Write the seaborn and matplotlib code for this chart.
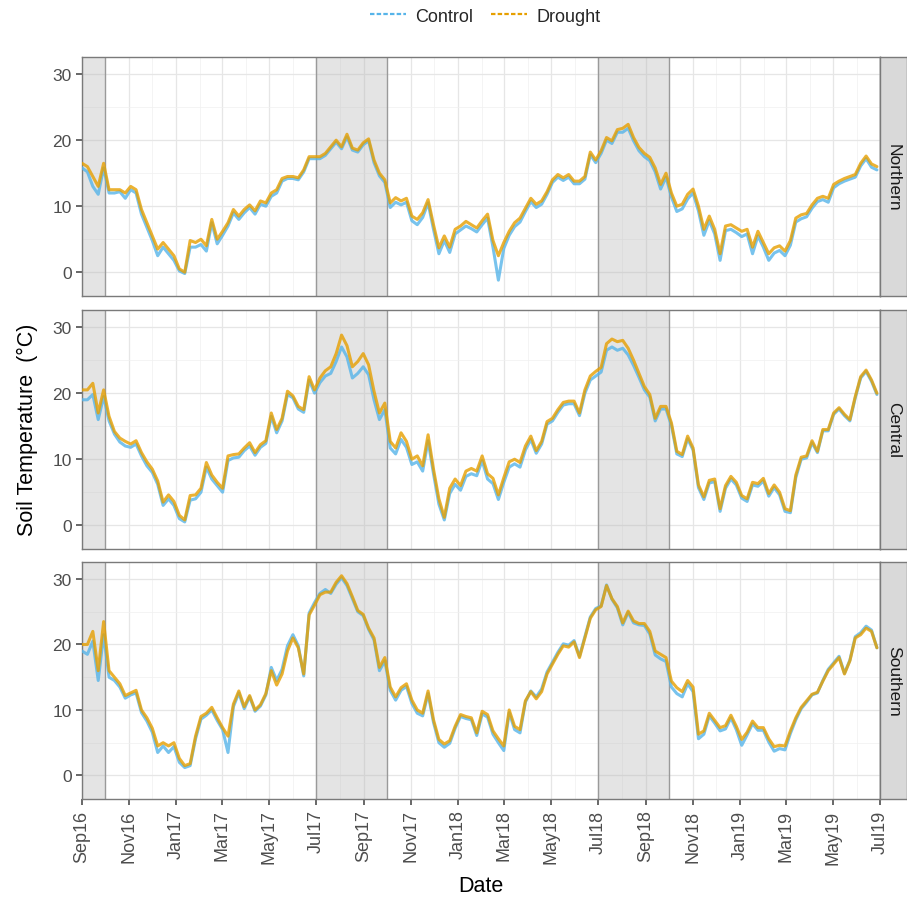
import numpy as np
import pandas as pd
import matplotlib
matplotlib.use("Agg")
import matplotlib.pyplot as plt
import matplotlib.dates as mdates
from matplotlib.lines import Line2D
import seaborn as sns

sns.set_theme(style="white")
plt.rcParams['font.family'] = ['Liberation Sans', 'DejaVu Sans']

# ---------------- data (weekly readings from the chart) ----------------
start_date = "2016-09-01"
dates = pd.date_range(start_date, periods=148, freq="7D")
regions = ["Northern", "Central", "Southern"]
treatments = ["Control", "Drought"]

northern_drought = [
    16.5, 16, 14.5, 13, 16.5, 12.5, 12.5, 12.5, 12, 13,
    12.5, 9.5, 7.5, 5.5, 3.5, 4.5, 3.5, 2.5, 0.5, 0.0,
    4.8, 4.5, 5, 4, 8, 5, 6.2, 7.5, 9.5, 8.5,
    9.5, 10.2, 9.3, 10.8, 10.5, 12, 12.5, 14.2, 14.5, 14.5,
    14.3, 15.5, 17.5, 17.5, 17.5, 18, 19, 20, 19, 20.9,
    18.8, 18.5, 19.6, 20.2, 17, 15, 14, 10.5, 11.3, 10.8,
    11.2, 8.5, 8, 9, 11, 7.2, 3.7, 5.5, 3.8, 6.5,
    7, 7.7, 7.2, 6.7, 7.8, 8.8, 4.8, 2.5, 4.5, 6.2,
    7.5, 8.2, 9.7, 11.2, 10.3, 10.8, 12.2, 14, 14.8, 14.3,
    14.8, 13.8, 13.8, 14.5, 18.2, 17, 18.4, 20.4, 19.9, 21.6,
    21.8, 22.4, 20.4, 18.9, 18, 17.4, 15.8, 13.3, 15, 12,
    10, 10.3, 11.8, 12.6, 10, 6.5, 8.5, 6.5, 2.8, 7,
    7.2, 6.7, 6.2, 6.5, 3.8, 6.2, 4.5, 2.8, 3.7, 4,
    3.2, 4.8, 8.2, 8.7, 8.9, 10.2, 11.2, 11.5, 11.2, 13.3,
    13.8, 14.2, 14.5, 14.8, 16.5, 17.6, 16.4, 16]
northern_control = [
    15.8, 15.2, 13, 11.8, 15.8, 12, 12, 12.2, 11.2, 12.5,
    12, 8.8, 6.8, 4.8, 2.5, 3.8, 2.8, 1.8, 0.2, -0.2,
    3.8, 3.8, 4.2, 3.2, 7.5, 4.3, 5.6, 7, 9, 8,
    9, 9.8, 8.8, 10.3, 10, 11.5, 12, 13.8, 14.2, 14.2,
    14, 15.2, 17.2, 17.2, 17.2, 17.7, 18.7, 19.7, 18.7, 20.5,
    18.5, 18.2, 19.3, 19.9, 16.6, 14.6, 13.6, 9.8, 10.6, 10.2,
    10.6, 7.8, 7.2, 8.3, 10.5, 6.5, 2.8, 4.8, 3, 5.8,
    6.4, 7, 6.6, 6.1, 7.2, 8.2, 3.8, -1.2, 3.6, 5.6,
    6.9, 7.6, 9.2, 10.7, 9.8, 10.3, 11.8, 13.6, 14.4, 13.9,
    14.4, 13.4, 13.4, 14.1, 17.8, 16.6, 18, 20, 19.5, 21.2,
    21.2, 21.8, 19.9, 18.4, 17.5, 16.9, 15.2, 12.6, 14.4, 11.4,
    9.2, 9.6, 11.1, 12, 9.3, 5.6, 7.8, 5.8, 1.8, 6.3,
    6.5, 6, 5.4, 5.8, 2.8, 5.5, 3.8, 1.8, 2.9, 3.3,
    2.5, 4.1, 7.6, 8.1, 8.4, 9.7, 10.7, 11, 10.6, 12.8,
    13.4, 13.8, 14.1, 14.4, 16.1, 17.2, 15.9, 15.5]

central_drought = [
    20.5, 20.5, 21.5, 17, 20.5, 16.5, 14.2, 13.2, 12.7, 12.3,
    12.8, 11, 9.6, 8.5, 6.7, 3.5, 4.6, 3.6, 1.5, 0.8,
    4.5, 4.6, 5.6, 9.5, 7.6, 6.5, 5.6, 10.5, 10.7, 10.8,
    11.7, 12.5, 11, 12.2, 12.8, 17, 14.5, 16.2, 20.3, 19.6,
    18, 17.5, 22.5, 20.5, 22.3, 23.4, 24, 26, 28.8, 27.2,
    24, 24.8, 26, 24.3, 20.3, 17, 18.5, 12.7, 11.7, 14,
    12.7, 10, 10.5, 9, 13.7, 8.5, 4, 1.2, 5.6, 7,
    6, 8.2, 8.6, 8.2, 10.5, 7.8, 7.1, 4.6, 7.2, 9.6,
    10, 9.5, 12, 13.5, 11.3, 12.7, 15.7, 16.2, 17.5, 18.6,
    18.8, 18.8, 17, 20.5, 22.6, 23.3, 23.9, 27.5, 28.2, 27.8,
    28, 26.8, 25, 23, 21, 19.8, 16.2, 18, 18, 15.5,
    11.2, 10.7, 13.5, 11.7, 6.1, 4.3, 6.8, 7, 2.5, 6,
    7.4, 6.5, 4.5, 4, 6.5, 6.3, 7.1, 4.8, 6.1, 5,
    2.5, 2.2, 7.6, 10.3, 10.5, 12.8, 11.2, 14.5, 14.5, 17,
    17.8, 16.8, 16, 19.5, 22.5, 23.5, 22, 20]
central_control = [
    19, 19, 19.8, 16, 19.5, 15.8, 13.8, 12.6, 12, 11.8,
    12.3, 10.5, 9, 8, 6.2, 3, 4, 3, 1, 0.5,
    3.8, 4, 5, 8.8, 7, 6, 5, 9.8, 10.2, 10.3,
    11.3, 12, 10.6, 11.8, 12.4, 16.5, 14, 15.8, 19.8, 19.3,
    17.6, 17.1, 22, 20, 21.6, 22.6, 23, 24.8, 27, 25.5,
    22.3, 23, 24, 22.8, 19, 16, 17.5, 11.7, 10.8, 13,
    11.8, 9.2, 9.6, 8.2, 12.8, 7.8, 3.2, 0.8, 4.8, 6.2,
    5.3, 7.4, 7.8, 7.5, 9.8, 7, 6.3, 3.9, 6.5, 8.8,
    9.3, 8.8, 11.4, 13, 10.9, 12.3, 15.3, 15.8, 17.1, 18.2,
    18.4, 18.4, 16.6, 20, 22, 22.6, 23.2, 26.5, 27, 26.5,
    26.8, 25.8, 24.2, 22.4, 20.5, 19.4, 15.8, 17.6, 17.6, 15.1,
    10.8, 10.4, 13.1, 11.4, 5.7, 3.9, 6.4, 6.6, 2.1, 5.6,
    7, 6.1, 4.1, 3.6, 6.1, 5.9, 6.7, 4.4, 5.7, 4.6,
    2.1, 1.9, 7.2, 10, 10.2, 12.5, 11, 14.3, 14.3, 16.8,
    17.6, 16.6, 15.8, 19.3, 22.3, 23.3, 21.8, 19.8]

southern_drought = [
    20, 20, 22, 16, 23.5, 16, 15, 14, 12.2, 12.6,
    13, 10, 8.8, 7.2, 4.5, 5, 4.5, 5, 2.6, 1.5,
    1.8, 6, 9, 9.5, 10.4, 8.8, 7.3, 6, 10.9, 12.9,
    10.5, 12.2, 10, 10.8, 12.5, 16, 13.8, 15.5, 19, 21,
    19.5, 15.5, 24.5, 26, 27.6, 28, 28, 29.5, 30.5, 29.3,
    27.3, 25.2, 24.6, 22.5, 21, 16.5, 18, 13.5, 12, 13.4,
    14, 11.5, 10, 9.5, 12.9, 8.5, 5.5, 4.8, 5.3, 7.5,
    9.3, 9, 8.8, 6.5, 9.8, 9.3, 6.8, 5.6, 4.5, 10,
    7.5, 7, 11.4, 12.8, 11.7, 12.8, 15.5, 17, 18.5, 19.8,
    19.6, 20.4, 18, 21, 24, 25.3, 25.8, 29, 27, 25.8,
    23.3, 25.1, 23.6, 23.2, 23.2, 22, 19, 18.5, 18, 14.4,
    13.4, 12.8, 14.5, 13.5, 6.3, 6.8, 9.5, 8.4, 7.3, 7.6,
    9.2, 7.5, 5.5, 6.6, 8.3, 7.3, 7.3, 5.6, 4.4, 4.6,
    4.5, 6.8, 8.8, 10.4, 11.4, 12.4, 12.7, 14.4, 16, 17,
    18, 15.5, 17.5, 21, 21.5, 22.5, 22, 19.5]
southern_control = [
    19, 18.5, 20.5, 14.5, 21.5, 15, 14.5, 13.5, 11.8, 12.3,
    12.6, 9.6, 8.3, 6.6, 3.5, 4.5, 3.5, 4.4, 2, 1.2,
    1.5, 5.6, 8.6, 9.2, 10, 8.4, 7, 3.5, 10.5, 12.6,
    10.2, 12, 9.8, 10.6, 12.3, 16.5, 14.5, 16.2, 19.8, 21.5,
    19.8, 15.2, 24.8, 26.4, 27.8, 28.4, 27.8, 29.2, 30.2, 29,
    27, 25, 24.4, 22.3, 20.7, 16, 17.5, 13, 11.5, 13,
    13.6, 11, 9.5, 9.1, 12.5, 8.1, 5, 4.3, 4.9, 7.2,
    9, 8.7, 8.5, 6.1, 9.4, 8.9, 6.3, 5, 3.8, 9.6,
    7, 6.5, 11.2, 12.9, 12, 13.2, 15.8, 17.3, 18.8, 20.1,
    19.9, 20.6, 18.2, 21.2, 24.2, 25.5, 25.9, 29.1, 26.9, 25.6,
    23, 24.9, 23.3, 23, 22.9, 21.6, 18.4, 17.8, 17.4, 13.5,
    12.5, 12, 14, 12.8, 5.6, 6.3, 9.1, 8, 6.8, 7.1,
    8.8, 7, 4.6, 6.2, 7.9, 6.9, 6.9, 5.1, 3.7, 4.1,
    3.9, 6.4, 8.5, 10.2, 11.2, 12.3, 12.6, 14.5, 16.2, 17.2,
    18.2, 15.6, 17.6, 21.2, 21.8, 22.8, 22.2, 19.5]

series = {
    "Northern": {"Control": northern_control, "Drought": northern_drought},
    "Central": {"Control": central_control, "Drought": central_drought},
    "Southern": {"Control": southern_control, "Drought": southern_drought},
}

shade_periods = [("2016-08-01", "2016-10-01"), ("2017-07-01", "2017-10-01"),
                 ("2018-07-01", "2018-10-01"), ("2019-07-01", "2019-10-01")]

frames = []
for reg in regions:
    for tr in treatments:
        vals = series[reg][tr]
        frames.append(pd.DataFrame({"Date": dates[:len(vals)], "Temp": vals,
                                    "Treatment": tr, "Region": reg}))
df = pd.concat(frames, ignore_index=True)

# ---------------- layout ----------------
W, H = 907, 903
fig = plt.figure(figsize=(W / 100, H / 100), dpi=100)
fig.patch.set_facecolor("white")
panel_px = [(58, 297), (311, 550), (563, 800)]
left_px, right_px = 82, 880
strip_w = 27
palette = {"Control": "#56B4E9", "Drought": "#E69F00"}
xmin, xmax = pd.Timestamp("2016-09-01"), pd.Timestamp("2019-07-01")

for i, reg in enumerate(regions):
    top, bot = panel_px[i]
    ax = fig.add_axes([left_px / W, 1 - bot / H, (right_px - left_px) / W, (bot - top) / H])
    ax.set_facecolor("white")
    ax.set_axisbelow(True)
    ax.xaxis.set_major_locator(mdates.MonthLocator(bymonth=[1, 3, 5, 7, 9, 11]))
    ax.xaxis.set_minor_locator(mdates.MonthLocator())
    ax.xaxis.set_major_formatter(mdates.DateFormatter("%b%y"))
    ax.set_yticks([0, 10, 20, 30])
    ax.set_yticks([5, 15, 25], minor=True)
    ax.grid(which="major", color="#E6E6E6", lw=0.9)
    ax.grid(which="minor", color="#F0F0F0", lw=0.5)

    for d0, d1 in shade_periods:
        ax.axvspan(pd.Timestamp(d0), pd.Timestamp(d1), facecolor="#B8B8B8", alpha=0.38,
                   lw=0, zorder=1)
        for d in (d0, d1):
            ax.axvline(pd.Timestamp(d), color="#9A9A9A", lw=1.0, zorder=1.5)

    sub = df[df["Region"] == reg]
    sns.lineplot(data=sub, x="Date", y="Temp", hue="Treatment", hue_order=treatments,
                 palette=palette, ax=ax, legend=False, linewidth=2.2, alpha=0.8,
                 zorder=3)

    ax.set_xlim(xmin, xmax)
    ax.set_ylim(-3.6, 32.6)
    ax.set_xlabel("")
    ax.set_ylabel("")
    for sp in ax.spines.values():
        sp.set_color("#7A7A7A")
        sp.set_linewidth(1.0)
    ax.tick_params(axis="y", which="major", length=4, color="#555555",
                   labelsize=12.5, labelcolor="#4D4D4D", left=True)
    ax.tick_params(axis="y", which="minor", length=0)
    ax.tick_params(axis="x", which="minor", length=0)
    if i == 2:
        ax.tick_params(axis="x", which="major", length=4, color="#555555",
                       labelsize=13, labelcolor="#4D4D4D", bottom=True,
                       labelrotation=90)
    else:
        ax.tick_params(axis="x", which="major", length=0, labelbottom=False)

    sax = fig.add_axes([right_px / W, 1 - bot / H, strip_w / W, (bot - top) / H])
    sax.set_facecolor("#D9D9D9")
    sax.set_xticks([])
    sax.set_yticks([])
    for sp in sax.spines.values():
        sp.set_color("#7A7A7A")
        sp.set_linewidth(1.0)
    sax.text(0.5, 0.5, reg, rotation=-90, ha="center", va="center",
             fontsize=12.5, color="#1A1A1A", transform=sax.transAxes)

fig.text(27 / W, 1 - 430 / H, "Soil Temperature  (°C)", rotation=90,
         ha="center", va="center", fontsize=15.5, color="black")
fig.text(481 / W, 1 - 887 / H, "Date", ha="center", va="center",
         fontsize=15.5, color="black")

handles = [Line2D([0], [0], color=palette[t], lw=1.6, linestyle=(0, (2, 1))) for t in treatments]
fig.legend(handles, treatments, loc="center", bbox_to_anchor=(485 / W, 1 - 17 / H),
           ncol=2, frameon=False, fontsize=13, handlelength=2.0,
           columnspacing=1.0, handletextpad=0.5)

fig.savefig("out.png", dpi=100)
